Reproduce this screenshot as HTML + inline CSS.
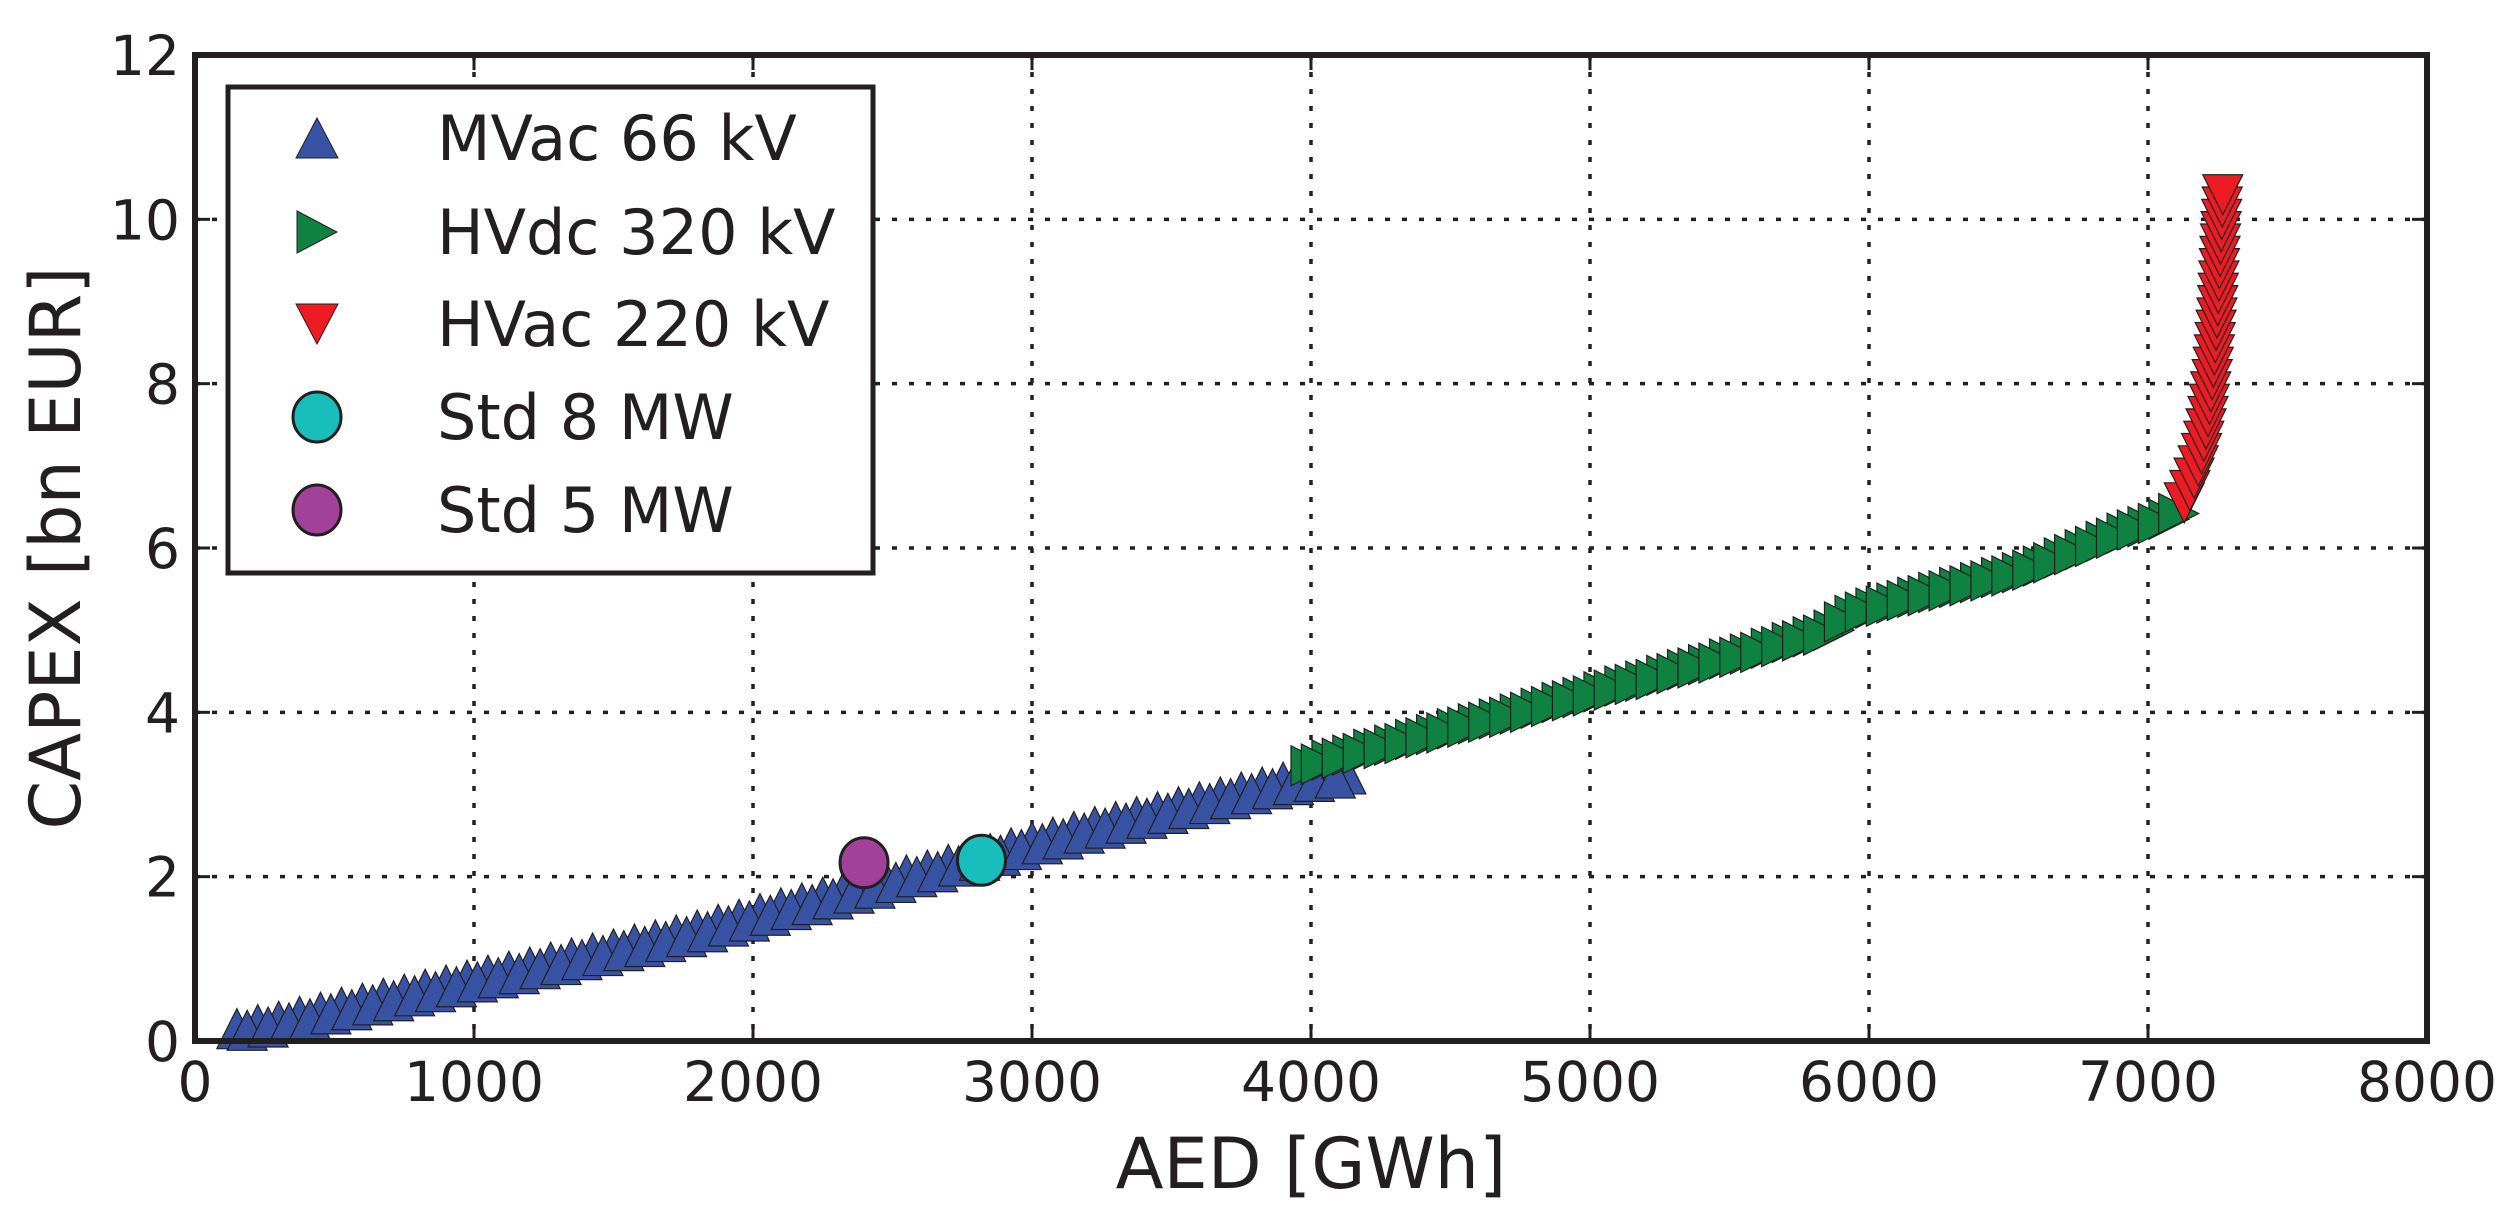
<!DOCTYPE html>
<html><head><meta charset="utf-8"><style>
html,body{margin:0;padding:0;background:#fff;}
svg{display:block;font-family:"DejaVu Sans","Liberation Sans",sans-serif;}
</style></head><body>
<svg id="chart" width="2506" height="1211" viewBox="0 0 2506 1211" xmlns="http://www.w3.org/2000/svg">
<g id="grid"></g>
<g id="ticks"></g>
<g id="marks"></g>
<rect x="195" y="55" width="2232" height="986" fill="none" stroke="#231f20" stroke-width="6"/>
<text x="1311" y="1188" font-size="70" text-anchor="middle" fill="#231f20">AED [GWh]</text>
<text transform="translate(80,548) rotate(-90)" font-size="70" text-anchor="middle" fill="#231f20">CAPEX [bn EUR]</text>
<g>
<rect x="228" y="87" width="645" height="486" fill="#fff" stroke="#231f20" stroke-width="5"/>
<polygon points="317,118 338,158 296,158" fill="#3953a4" stroke="#231f20" stroke-width="1"/>
<text x="437" y="160" font-size="62" fill="#231f20">MVac 66 kV</text>
<polygon points="297,211 337,232 297,253" fill="#0f8140" stroke="#231f20" stroke-width="1"/>
<text x="437" y="254" font-size="62" fill="#231f20">HVdc 320 kV</text>
<polygon points="296,304 338,304 317,344" fill="#ed1c24" stroke="#231f20" stroke-width="1"/>
<text x="437" y="346" font-size="62" fill="#231f20">HVac 220 kV</text>
<ellipse cx="317" cy="417" rx="24" ry="25" fill="#17bebb" stroke="#231f20" stroke-width="3"/>
<text x="437" y="439" font-size="62" fill="#231f20">Std 8 MW</text>
<ellipse cx="317" cy="510" rx="24" ry="25" fill="#a3409a" stroke="#231f20" stroke-width="3"/>
<text x="437" y="532" font-size="62" fill="#231f20">Std 5 MW</text>
</g>
</svg>
<script>
const xTicks = [0,1000,2000,3000,4000,5000,6000,7000,8000];
const yTicks = [0,2,4,6,8,10,12];
const mvacX = [150,225,300,375,450,525,600,675,750,825,900,975,1050,1125,1200,1275,1350,1425,1500,1575,1650,1725,1800,1875,1950,2025,2100,2175,2250,2325,2400,2475,2550,2625,2700,2775,2850,2925,3000,3075,3150,3225,3300,3375,3450,3525,3600,3675,3750,3825,3900,3975,4050,4125];
const mvacY = [0.15,0.2,0.24,0.3,0.35,0.41,0.46,0.52,0.57,0.63,0.68,0.74,0.8,0.85,0.9,0.96,1.01,1.07,1.12,1.18,1.23,1.29,1.35,1.42,1.48,1.55,1.62,1.68,1.75,1.82,1.88,1.95,2.02,2.08,2.15,2.22,2.28,2.35,2.42,2.48,2.55,2.61,2.67,2.73,2.79,2.85,2.91,2.97,3.03,3.09,3.15,3.2,3.22,3.25];
const mvacLowX = [187,262,337,412,487,562,637,712,787,862,937,1012,1087,1162,1237,1312,1387,1462,1537,1612,1687,1762,1837,1912,1987,2062,2137,2212,2287,2362,2437,2512,2587,2662,2737,2812,2887,2962,3037,3112,3187,3262,3337,3412,3487,3562,3637,3712,3787,3862,3937,4012,4087];
const mvacLowY = [0.13,0.17,0.22,0.27,0.33,0.38,0.44,0.49,0.55,0.6,0.66,0.72,0.77,0.82,0.88,0.93,0.99,1.04,1.1,1.15,1.21,1.27,1.33,1.4,1.46,1.53,1.6,1.66,1.73,1.8,1.86,1.93,2.0,2.06,2.13,2.2,2.26,2.33,2.4,2.46,2.53,2.59,2.65,2.71,2.77,2.83,2.89,2.95,3.01,3.07,3.12,3.16,3.2];
const hvdcX = [4000,4075,4150,4225,4300,4375,4450,4525,4600,4675,4750,4825,4900,4975,5050,5125,5200,5275,5350,5425,5500,5575,5650,5725,5800,5875,5950,6025,6100,6175,6250,6325,6400,6475,6550,6625,6700,6775,6850,6925,7000,7075];
const hvdcY = [3.35,3.42,3.48,3.55,3.6,3.67,3.73,3.8,3.86,3.92,3.98,4.05,4.12,4.18,4.25,4.32,4.38,4.45,4.52,4.58,4.65,4.71,4.78,4.85,4.92,5.0,5.18,5.27,5.33,5.4,5.46,5.52,5.58,5.64,5.7,5.78,5.88,5.98,6.08,6.18,6.26,6.35];
const hvdcMidX = [4037,4112,4187,4262,4337,4412,4487,4562,4637,4712,4787,4862,4937,5012,5087,5162,5237,5312,5387,5462,5537,5612,5687,5762,5837,5912,5987,6062,6137,6212,6287,6362,6437,6512,6587,6662,6737,6812,6887,6962,7037,7110];
const hvdcMidY = [3.37,3.44,3.5,3.56,3.62,3.69,3.75,3.82,3.88,3.94,4.0,4.07,4.14,4.2,4.27,4.34,4.4,4.47,4.54,4.6,4.67,4.73,4.8,4.87,4.94,5.1,5.22,5.29,5.36,5.42,5.48,5.54,5.6,5.66,5.73,5.82,5.92,6.02,6.12,6.22,6.3,6.42];
const hvacX = [7130,7150,7165,7180,7192,7200,7208,7215,7220,7225,7230,7234,7238,7241,7244,7247,7250,7252,7254,7256,7258,7260,7262,7264,7266,7268];
const hvacY = [6.55,6.7,6.85,7.0,7.15,7.3,7.45,7.6,7.75,7.9,8.05,8.2,8.35,8.5,8.65,8.8,8.95,9.1,9.25,9.4,9.55,9.7,9.85,10.0,10.15,10.3];
const std8 = [2819, 2.2];
const std5 = [2398, 2.17];

const NS = "http://www.w3.org/2000/svg";
const X0=195, X1=2427, Y0=1041, Y1=55;
function sx(v){return X0+(v-0)/(8000-0)*(X1-X0);}
function sy(v){return Y0-(v-0)/(12-0)*(Y0-Y1);}
function mk(tag, parent){const e=document.createElementNS(NS,tag);parent.appendChild(e);return e;}
const grid=document.getElementById('grid'), ticks=document.getElementById('ticks'), marks=document.getElementById('marks');
const svg=document.getElementById('chart');

xTicks.forEach(t=>{
  const x=sx(t);
  if(t>0&&t<8000){
    const g=mk('line',grid);
    
    
    g.setAttribute('x1',x);g.setAttribute('x2',x);g.setAttribute('y1',Y1);g.setAttribute('y2',Y0);
    g.setAttribute('stroke','#231f20');g.setAttribute('stroke-width','3.5');g.setAttribute('stroke-dasharray','5 12');
    [[Y0,Y0-15],[Y1,Y1+15]].forEach(p=>{
      const k=mk('line',ticks);
      
      
      k.setAttribute('x1',x);k.setAttribute('x2',x);k.setAttribute('y1',p[0]);k.setAttribute('y2',p[1]);
      k.setAttribute('stroke','#231f20');k.setAttribute('stroke-width','3');
    });
  }
  const l=mk('text',svg);
  
  
  l.setAttribute('x',x);l.setAttribute('y',1101);l.setAttribute('font-size','55');l.setAttribute('text-anchor','middle');l.setAttribute('fill','#231f20');
  l.textContent=t;
});
yTicks.forEach(t=>{
  const y=sy(t);
  if(t>0&&t<12){
    const g=mk('line',grid);
    
    
    g.setAttribute('x1',X0);g.setAttribute('x2',X1);g.setAttribute('y1',y);g.setAttribute('y2',y);
    g.setAttribute('stroke','#231f20');g.setAttribute('stroke-width','3.5');g.setAttribute('stroke-dasharray','5 12');
    [[X0,X0+15],[X1,X1-15]].forEach(p=>{
      const k=mk('line',ticks);
      
      
      k.setAttribute('x1',p[0]);k.setAttribute('x2',p[1]);k.setAttribute('y1',y);k.setAttribute('y2',y);
      k.setAttribute('stroke','#231f20');k.setAttribute('stroke-width','3');
    });
  }
  const l=mk('text',svg);
  
  
  l.setAttribute('x',180);l.setAttribute('y',y+20);l.setAttribute('font-size','55');l.setAttribute('text-anchor','end');l.setAttribute('fill','#231f20');
  l.textContent=t;
});

function tri(cx,cy,dir){
  const h=20;
  if(dir==='up') return `${cx},${cy-h} ${cx+h},${cy+h} ${cx-h},${cy+h}`;
  if(dir==='down') return `${cx-h},${cy-h} ${cx+h},${cy-h} ${cx},${cy+h}`;
  return `${cx-h},${cy-h} ${cx+h},${cy} ${cx-h},${cy+h}`;
}
function series(xs,ys,dir,fill,name){
  xs.forEach((v,i)=>{
    const p=mk('polygon',marks);
    
    
    p.setAttribute('points',tri(sx(v),sy(ys[i]),dir));
    p.setAttribute('fill',fill);p.setAttribute('stroke','#231f20');p.setAttribute('stroke-width','1.2');
  });
}
series(mvacX,mvacY,'up','#3953a4','mvac-point');
series(mvacLowX,mvacLowY,'up','#3953a4','mvac-point');
series(hvdcX,hvdcY,'right','#0f8140','hvdc-point');
series(hvdcMidX,hvdcMidY,'right','#0f8140','hvdc-point');
series(hvacX,hvacY,'down','#ed1c24','hvac-point');
[[std5,'#a3409a','std-5mw-point'],[std8,'#17bebb','std-8mw-point']].forEach(s=>{
  const c=mk('ellipse',marks);
  
  
  c.setAttribute('cx',sx(s[0][0]));c.setAttribute('cy',sy(s[0][1]));c.setAttribute('rx',24);c.setAttribute('ry',25);
  c.setAttribute('fill',s[1]);c.setAttribute('stroke','#231f20');c.setAttribute('stroke-width','3');
});
</script>
</body></html>
